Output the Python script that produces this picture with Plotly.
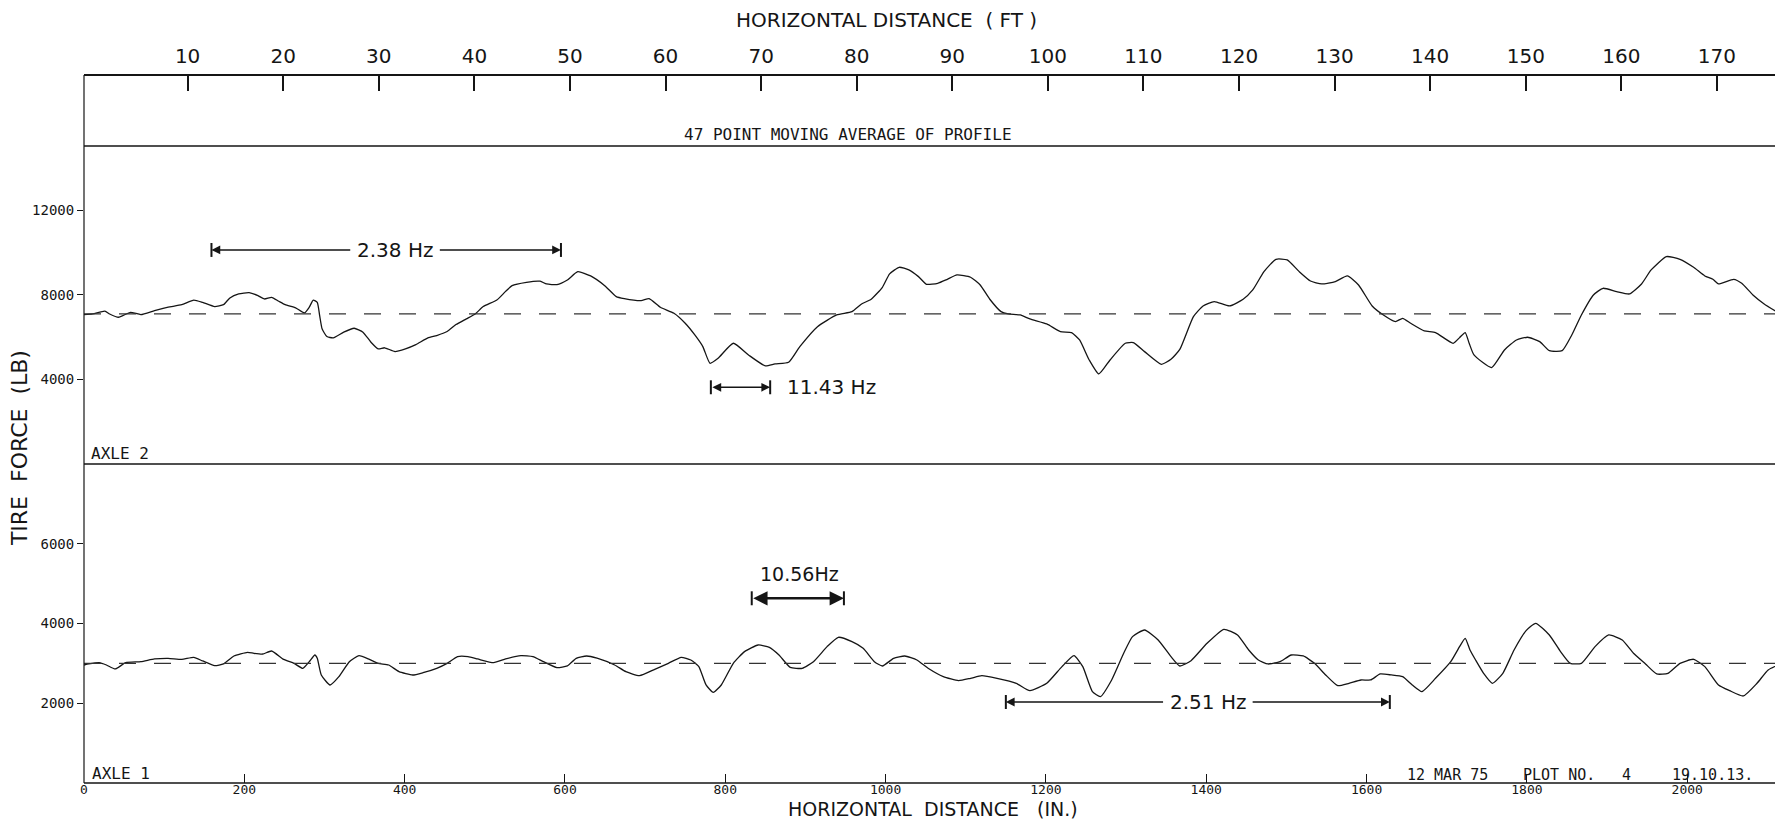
import plotly.graph_objects as go

# ---------------- data ----------------
X_RANGE_IN = [0, 2117]          # horizontal distance, inches
FT_RANGE = [-0.84, 176.7]       # same span expressed in feet (top axis)
FT_TICKS = [10, 20, 30, 40, 50, 60, 70, 80, 90, 100, 110, 120, 130, 140, 150, 160, 170]
IN_TICKS = [0, 200, 400, 600, 800, 1000, 1200, 1400, 1600, 1800, 2000]
AXLE2_TICKS = [4000, 8000, 12000]
AXLE1_TICKS = [2000, 4000, 6000]

axle2_x = [0, 11, 26, 32, 43, 58, 71, 88, 105, 122, 137, 148, 163, 174, 182, 193, 206, 217, 225, 234,
           243, 251, 264, 275, 281, 286, 291, 294, 297, 303, 311, 324, 337, 348, 358, 367, 375, 388, 401, 414,
           429, 440, 453, 464, 477, 488, 498, 515, 526, 534, 552, 569, 577, 590, 603, 616, 632, 650, 664, 674,
           695, 705, 719, 736, 750, 762, 772, 781, 791, 810, 829, 850, 862, 879, 893, 915, 939, 958, 970, 982,
           996, 1005, 1017, 1029, 1041, 1051, 1065, 1077, 1089, 1106, 1118, 1130, 1144, 1153, 1168, 1180, 1201, 1218, 1232, 1242,
           1254, 1266, 1280, 1299, 1309, 1323, 1344, 1356, 1367, 1384, 1396, 1410, 1429, 1446, 1458, 1472, 1487, 1501, 1516, 1530,
           1544, 1561, 1576, 1590, 1607, 1621, 1636, 1645, 1655, 1672, 1686, 1708, 1716, 1723, 1728, 1734, 1756, 1772, 1787, 1801,
           1816, 1828, 1844, 1856, 1868, 1883, 1895, 1912, 1928, 1943, 1955, 1974, 1991, 2008, 2022, 2032, 2039, 2058, 2068, 2082,
           2096, 2116]
axle2_lb = [7070, 7100, 7230, 7100, 6945, 7180, 7070, 7260, 7420, 7540, 7760, 7650, 7450, 7540, 7860, 8050, 8110, 7970, 7810, 7890,
            7700, 7540, 7390, 7150, 7420, 7760, 7650, 7020, 6400, 6030, 5970, 6240, 6425, 6240, 5765, 5450, 5500, 5320, 5450, 5650,
            5970, 6080, 6270, 6600, 6870, 7100, 7450, 7760, 8170, 8440, 8600, 8650, 8520, 8490, 8710, 9100, 8900, 8427, 7922, 7827,
            7732, 7827, 7416, 7132, 6660, 6107, 5555, 4765, 5002, 5713, 5160, 4640, 4734, 4813, 5555, 6501, 7053, 7211, 7574, 7796,
            8363, 8995, 9310, 9184, 8868, 8505, 8553, 8742, 8947, 8837, 8474, 7796, 7211, 7101, 7053, 6864, 6628, 6265, 6218, 5870,
            4923, 4261, 4923, 5713, 5744, 5318, 4718, 4955, 5420, 6975, 7480, 7685, 7480, 7796, 8237, 9105, 9689, 9657, 9105, 8663,
            8521, 8632, 8900, 8474, 7480, 7053, 6738, 6896, 6660, 6297, 6218, 5713, 5981, 6218, 5713, 5160, 4561, 5397, 5870, 5997,
            5792, 5365, 5365, 6107, 7053, 8000, 8316, 8158, 8048, 8521, 9184, 9815, 9689, 9310, 8900, 8742, 8521, 8742, 8553, 8000,
            7574, 7101]

axle1_x = [0, 6, 19, 28, 39, 52, 71, 88, 105, 122, 137, 148, 163, 174, 187, 204, 212, 223, 234, 249,
           262, 273, 281, 288, 291, 296, 307, 318, 331, 343, 356, 367, 380, 393, 410, 423, 440, 453, 466, 479,
           491, 511, 526, 545, 560, 573, 590, 603, 614, 627, 640, 662, 676, 693, 712, 729, 745, 757, 767, 776,
           785, 795, 810, 824, 841, 855, 867, 881, 896, 910, 927, 941, 958, 972, 986, 996, 1010, 1024, 1039, 1053,
           1072, 1091, 1106, 1120, 1139, 1163, 1180, 1201, 1220, 1235, 1246, 1258, 1268, 1282, 1297, 1308, 1323, 1340, 1356, 1367,
           1381, 1401, 1422, 1439, 1453, 1465, 1477, 1492, 1506, 1521, 1535, 1549, 1564, 1578, 1593, 1605, 1617, 1631, 1645, 1657,
           1669, 1686, 1705, 1716, 1723, 1729, 1736, 1746, 1757, 1770, 1784, 1799, 1811, 1828, 1842, 1854, 1868, 1885, 1902, 1919,
           1933, 1948, 1962, 1976, 1991, 2008, 2022, 2039, 2053, 2070, 2087, 2101, 2116]
axle1_lb = [2959, 2985, 3017, 2959, 2860, 3017, 3043, 3110, 3127, 3100, 3150, 3060, 2943, 2985, 3185, 3277, 3252, 3235, 3310, 3100,
            3000, 2876, 3043, 3210, 3127, 2708, 2457, 2666, 3043, 3193, 3100, 3000, 2959, 2792, 2708, 2767, 2876, 3000, 3168, 3168,
            3110, 3017, 3110, 3193, 3168, 3043, 2893, 2935, 3127, 3185, 3130, 2959, 2792, 2692, 2851, 3001, 3152, 3085, 2918, 2458,
            2274, 2458, 3001, 3294, 3461, 3402, 3210, 2901, 2876, 3043, 3419, 3653, 3545, 3378, 3043, 2934, 3127, 3185, 3085, 2876,
            2667, 2567, 2625, 2692, 2625, 2500, 2316, 2500, 2918, 3194, 2918, 2291, 2166, 2583, 3252, 3670, 3837, 3586, 3169, 2934,
            3068, 3503, 3854, 3712, 3336, 3085, 2985, 3043, 3210, 3185, 3001, 2709, 2441, 2500, 2583, 2583, 2734, 2709, 2667, 2458,
            2291, 2625, 3043, 3419, 3628, 3336, 3085, 2751, 2500, 2751, 3336, 3820, 4005, 3712, 3294, 3001, 3001, 3419, 3712, 3586,
            3252, 2985, 2734, 2751, 3001, 3102, 2918, 2458, 2316, 2182, 2500, 2834, 2985]

AXLE2_STATIC = 7100
AXLE1_STATIC = 3000

# frequency brackets: (label, x_left, x_right, y_level, text_x, text_y)
BRACKET_238 = ("2.38 Hz", 159, 595, 10130, 388, 10130)
BRACKET_1143 = ("11.43 Hz", 782, 856, 3630, 874, 3630)
BRACKET_1056 = ("10.56Hz", 833, 948, 4632, 892, 5250)
BRACKET_251 = ("2.51 Hz", 1150, 1629, 2031, 1402, 2031)

# ---------------- figure ----------------
INK = "#151515"
MONO = "DejaVu Sans Mono, Liberation Mono, monospace"
SANS = "DejaVu Sans, Liberation Sans, sans-serif"

fig = go.Figure()

fig.add_trace(go.Scatter(x=axle2_x, y=axle2_lb, xaxis="x", yaxis="y2", mode="lines",
                         line=dict(color=INK, width=1.3, shape="spline", smoothing=0.5),
                         hoverinfo="skip"))
fig.add_trace(go.Scatter(x=axle1_x, y=axle1_lb, xaxis="x", yaxis="y", mode="lines",
                         line=dict(color=INK, width=1.3, shape="spline", smoothing=0.5),
                         hoverinfo="skip"))
# static load reference lines
fig.add_trace(go.Scatter(x=X_RANGE_IN, y=[AXLE2_STATIC] * 2, xaxis="x", yaxis="y2", mode="lines",
                         line=dict(color="#333", width=1.3, dash="17px,18px"), hoverinfo="skip"))
fig.add_trace(go.Scatter(x=X_RANGE_IN, y=[AXLE1_STATIC] * 2, xaxis="x", yaxis="y", mode="lines",
                         line=dict(color="#333", width=1.3, dash="17px,18px"), hoverinfo="skip"))
# invisible trace to activate the feet axis
fig.add_trace(go.Scatter(x=[FT_TICKS[0], FT_TICKS[-1]], y=[AXLE2_STATIC] * 2, xaxis="x2", yaxis="y2",
                         mode="markers", marker=dict(opacity=0), hoverinfo="skip"))

BOT_TOP = 0.4506
MID_TOP = 0.8997

# the page body adds an 8 px margin, so the figure is sized to fit the window exactly
fig.update_layout(
    width=1775, height=812,
    margin=dict(l=76, r=2, t=67, b=37),
    plot_bgcolor="white", paper_bgcolor="white",
    showlegend=False,
    xaxis=dict(range=X_RANGE_IN, domain=[0, 1], anchor="y", tickvals=IN_TICKS,
               ticktext=[str(v) for v in IN_TICKS],
               ticks="inside", ticklen=9, tickwidth=1.3, tickcolor=INK,
               showgrid=False, zeroline=False, showline=False, ticklabelstandoff=-3,
               tickfont=dict(family=MONO, size=13, color=INK)),
    xaxis2=dict(range=FT_RANGE, overlaying="x", side="top", anchor="free", position=1,
                tickvals=FT_TICKS, ticktext=[str(v) for v in FT_TICKS],
                ticks="inside", ticklen=15, tickwidth=1.5, tickcolor=INK,
                showgrid=False, zeroline=False, showline=False, ticklabelstandoff=8,
                tickfont=dict(family=SANS, size=20, color=INK)),
    yaxis=dict(domain=[0, BOT_TOP], range=[0, 8000], anchor="x", tickvals=AXLE1_TICKS,
               ticktext=[str(v) for v in AXLE1_TICKS],
               ticks="outside", ticklen=6, tickwidth=1.2, tickcolor=INK,
               showgrid=False, zeroline=False, showline=False,
               tickfont=dict(family=MONO, size=14, color=INK)),
    yaxis2=dict(domain=[BOT_TOP, MID_TOP], range=[0, 15050], anchor="x", tickvals=AXLE2_TICKS,
                ticktext=[str(v) for v in AXLE2_TICKS],
                ticks="outside", ticklen=6, tickwidth=1.2, tickcolor=INK,
                showgrid=False, zeroline=False, showline=False,
                tickfont=dict(family=MONO, size=14, color=INK)),
)

# frame lines
frame = [
    (0, 1, 1, 1, 2.2), (1, 0, 1, 1, 1.6), (0, 0, 0, 1, 1.2),
    (0, MID_TOP, 1, MID_TOP, 1.4), (0, BOT_TOP, 1, BOT_TOP, 1.6), (0, 0, 1, 0, 1.6),
]
for x0, y0, x1, y1, w in frame:
    fig.add_shape(type="line", xref="paper", yref="paper", x0=x0, y0=y0, x1=x1, y1=y1,
                  line=dict(color=INK, width=w))

def bracket(spec, yref, half_h, double, width=1.6, gap=(0, 0)):
    label, xl, xr, yv, tx, ty = spec
    for xb in (xl, xr):
        fig.add_shape(type="line", xref="x", yref=yref, x0=xb, x1=xb, y0=yv - half_h, y1=yv + half_h,
                      line=dict(color=INK, width=2))
    if double:
        fig.add_annotation(x=xr, y=yv, ax=xl, ay=yv, xref="x", yref=yref, axref="x", ayref=yref,
                           text="", showarrow=True, arrowhead=2, arrowside="end+start",
                           arrowsize=1.1, arrowwidth=width, arrowcolor=INK)
    else:
        fig.add_annotation(x=xl, y=yv, ax=tx - gap[0], ay=yv, xref="x", yref=yref, axref="x", ayref=yref,
                           text="", showarrow=True, arrowhead=2, arrowsize=1.1, arrowwidth=width,
                           arrowcolor=INK)
        fig.add_annotation(x=xr, y=yv, ax=tx + gap[1], ay=yv, xref="x", yref=yref, axref="x", ayref=yref,
                           text="", showarrow=True, arrowhead=2, arrowsize=1.1, arrowwidth=width,
                           arrowcolor=INK)

bracket(BRACKET_238, "y2", 330, False, gap=(54, 54))
bracket(BRACKET_1143, "y2", 330, True)
bracket(BRACKET_1056, "y", 175, True, width=2.6)
bracket(BRACKET_251, "y", 175, False, gap=(54, 54))

fig.add_annotation(x=BRACKET_238[4], y=BRACKET_238[5], xref="x", yref="y2", text=BRACKET_238[0],
                   showarrow=False, font=dict(family=SANS, size=20, color=INK))
fig.add_annotation(x=BRACKET_1143[4], y=BRACKET_1143[5], xref="x", yref="y2", text=BRACKET_1143[0],
                   xanchor="left", showarrow=False, font=dict(family=SANS, size=20, color=INK))
fig.add_annotation(x=BRACKET_1056[4], y=BRACKET_1056[5], xref="x", yref="y", text=BRACKET_1056[0],
                   showarrow=False, font=dict(family=SANS, size=19, color=INK))
fig.add_annotation(x=BRACKET_251[4], y=BRACKET_251[5], xref="x", yref="y", text=BRACKET_251[0],
                   showarrow=False, font=dict(family=SANS, size=20, color=INK))

def label(text, x, y, family, size, xanchor="center", yanchor="middle", angle=0):
    fig.add_annotation(text=text, x=x, y=y, xref="paper", yref="paper", xanchor=xanchor,
                       yanchor=yanchor, showarrow=False, textangle=angle, borderpad=0,
                       font=dict(family=family, size=size, color=INK))

label("HORIZONTAL DISTANCE  ( FT )", 0.473, 1.077, SANS, 20)
label("47 POINT MOVING AVERAGE OF PROFILE", 0.450, 0.9153, MONO, 16)
label("TIRE  FORCE  (LB)", -0.0383, 0.473, SANS, 22, angle=-90)
label("AXLE 2", 0.0035, 0.4647, MONO, 16, xanchor="left")
label("AXLE 1", 0.0041, 0.0141, MONO, 16, xanchor="left")
label("12 MAR 75", 0.779, 0.0113, MONO, 15, xanchor="left")
label("PLOT NO.", 0.8474, 0.0113, MONO, 15, xanchor="left")
label("4", 0.9087, 0.0113, MONO, 15)
label("19.10.13.", 0.9352, 0.0113, MONO, 15, xanchor="left")
label("HORIZONTAL  DISTANCE   (IN.)", 0.5003, -0.0367, SANS, 19)

fig.write_html("out.html")
